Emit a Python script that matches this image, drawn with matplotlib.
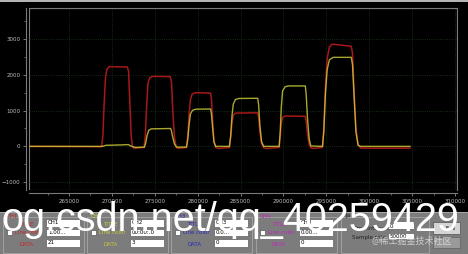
import numpy as np
import matplotlib
matplotlib.use("Agg")
import matplotlib.pyplot as plt
from matplotlib.patches import Rectangle
from matplotlib.ticker import MultipleLocator

# sample index (thousands) and value
t_red = [260.35, 268.80, 268.95, 269.10, 269.25, 269.40, 269.70, 271.80,
         271.95, 272.10, 272.25, 272.40, 272.60, 273.00, 273.75,
         273.90, 274.05, 274.20, 274.40, 274.80, 276.80,
         276.95, 277.10, 277.30, 277.50, 277.80, 278.20, 278.70,
         278.85, 279.00, 279.15, 279.35, 279.70, 281.50,
         281.60, 281.75, 281.90, 282.10, 282.40, 283.70,
         283.85, 284.00, 284.15, 284.40, 287.00,
         287.10, 287.25, 287.45, 287.70, 288.00, 289.50,
         289.62, 289.75, 289.90, 290.20, 292.55,
         292.65, 292.80, 293.00, 293.20, 293.50, 294.55,
         294.70, 294.90, 295.10, 295.35, 295.70, 297.90,
         298.05, 298.25, 298.45, 298.70, 299.00, 300.00, 304.75]
v_red = [0, -10, 300, 1200, 1900, 2150, 2230, 2220,
         2100, 1200, 300, 0, -60, -40, -30,
         300, 1100, 1750, 1920, 1960, 1950,
         1800, 1000, 250, -30, -60, -40, -30,
         300, 900, 1300, 1460, 1500, 1490,
         1350, 700, 150, -30, -60, -30,
         250, 650, 870, 930, 940,
         820, 400, 80, -40, -60, -30,
         250, 650, 810, 850, 840,
         700, 350, 50, -40, -60, -30,
         500, 1700, 2450, 2780, 2860, 2800,
         2600, 1500, 500, 50, -50, -50, -50]

t_yel = [260.35, 268.90, 269.30, 271.00, 271.90, 272.30, 272.80, 273.80,
         273.95, 274.10, 274.30, 274.60, 276.85,
         276.95, 277.10, 277.30, 277.55, 278.70,
         278.85, 279.00, 279.15, 279.40, 279.80, 281.50,
         281.60, 281.75, 281.90, 282.10, 283.70,
         283.85, 284.00, 284.15, 284.40, 284.80, 287.00,
         287.10, 287.25, 287.45, 287.70, 289.50,
         289.62, 289.75, 289.90, 290.20, 290.60, 292.55,
         292.65, 292.80, 293.00, 293.20, 294.55,
         294.70, 294.90, 295.10, 295.35, 295.80, 297.90,
         298.05, 298.25, 298.45, 298.70, 299.00, 304.75]
v_yel = [0, 0, 30, 40, 50, 0, -30, -20,
         100, 300, 450, 490, 500,
         430, 250, 60, -20, -20,
         200, 600, 900, 1010, 1040, 1045,
         920, 500, 120, 0, 0,
         300, 850, 1180, 1310, 1340, 1345,
         1180, 600, 130, 0, 0,
         400, 1100, 1550, 1670, 1690, 1690,
         1450, 800, 200, 10, 0,
         400, 1500, 2150, 2420, 2490, 2490,
         2280, 1300, 400, 30, 0, 0]

channels = ["CH1", "CH2", "CH3", "CH4"]
ch_colors = ["#c82828", "#c8c83c", "#2828c0", "#c028c0"]
ch_values = [["CH1", "1.00...", "21"], ["CH2", "00:00:.0", "3"],
             ["CH3", "0.0...", "0"], ["CH4", "0.00...", "0"]]

fig = plt.figure(figsize=(4.68, 2.54), dpi=100, facecolor="black")
W, H = 468, 254

ax = fig.add_axes([29 / W, 1 - 190 / H, (457 - 29) / W, (190 - 8) / H])
ax.set_facecolor("black")
ax.plot(np.array(t_red) * 1000, v_red, color="#a81818", lw=1.1)
ax.plot(np.array(t_yel) * 1000, v_yel, color="#d2d23c", lw=1.0, alpha=0.8)
ax.set_xlim(260340, 310230)
ax.set_ylim(-1220, 3870)
ax.xaxis.set_major_locator(MultipleLocator(5000))
ax.xaxis.set_minor_locator(MultipleLocator(2500))
ax.yaxis.set_major_locator(MultipleLocator(1000))
ax.yaxis.set_minor_locator(MultipleLocator(500))
ax.grid(True, which="major", color="#1c3a1c", ls=":", lw=0.6)
for s in ax.spines.values():
    s.set_color("#7a7a7a")
    s.set_linewidth(0.8)
ax.spines["left"].set_position(("outward", 2.2))
ax.spines["bottom"].set_position(("outward", 2.2))
ax.add_patch(Rectangle((0, 0), 1, 1, transform=ax.transAxes, fill=False,
                       ec="#7a7a7a", lw=0.8))
ax.tick_params(which="both", direction="out", colors="#8a8a8a",
               labelcolor="#bdbdbd", labelsize=4, pad=1.5)
ax.tick_params(which="major", length=2.5, width=0.6)
ax.tick_params(which="minor", length=1.5, width=0.5)

# control panel drawn in pixel space
ui = fig.add_axes([0, 0, 1, 1])
ui.set_xlim(0, W)
ui.set_ylim(H, 0)
ui.axis("off")
ui.patch.set_alpha(0)


def box(x, y, w, h, fc="white", ec="#606060", lw=0.5, fill=True):
    ui.add_patch(Rectangle((x, y), w, h, fc=fc, ec=ec, lw=lw, fill=fill))


box(0, 0, W, 2, fc="#b4b4b4", ec="none")
box(0, 212, W, 42, fc="#7c7c7c", ec="none")
box(0, 212, W, 1, fc="#a8a8a8", ec="none")

x0s = [3, 87, 171, 256]
for x0, name, col, vals in zip(x0s, channels, ch_colors, ch_values):
    box(x0, 217, 81, 36, ec="#a6a6a6", lw=0.6, fill=False)
    ui.text(x0 + 4, 216, name, color=col, fontsize=4, va="center")
    ui.text(x0 + 16, 224, "TITLE", color=col, fontsize=4, va="center")
    box(x0 + 4, 230, 5, 5, fc="white", ec="#404040", lw=0.4)
    ui.text(x0 + 12, 233, "Line color", color=col, fontsize=4, va="center")
    ui.text(x0 + 16, 245, "DATA", color=col, fontsize=4, va="center")
    for (yy, hh), v in zip([(219, 8), (229, 7), (239, 8)], vals):
        box(x0 + 43, yy, 34, hh)
        ui.text(x0 + 45, yy + hh / 2, v, color="black", fontsize=4,
                va="center")

box(341, 217, 88, 36, ec="#a6a6a6", lw=0.6, fill=False)
ui.text(345, 216, "Ja", color="#202020", fontsize=4, va="center")
ui.text(352, 229, "Time interval:", color="#202020", fontsize=4, va="center")
ui.text(352, 237, "Sample rate:", color="#202020", fontsize=4, va="center")
box(388, 223, 26, 6)
ui.text(390, 226, "0", color="black", fontsize=4, va="center")
box(388, 233, 26, 6)
ui.text(390, 236, "50000", color="black", fontsize=4, va="center")
box(433, 222, 27, 12, fc="#d4d4d4", ec="#505050")
ui.text(446, 228, "F N", color="black", fontsize=4, va="center")
box(433, 237, 27, 11, fc="#9a9a9a", ec="#606060")

# watermarks
ui.text(1, 231, "og.csdn.net/qq_40259429", color="white",
        fontsize=28.5, family="Liberation Sans", va="baseline")
ui.text(372, 241, "@稀土掘金技术社区", color="#e8e8e8", alpha=0.75,
        fontsize=6.5, family=["Noto Sans CJK SC", "DejaVu Sans"],
        va="center")

fig.savefig("out.png", dpi=100, facecolor="black")
